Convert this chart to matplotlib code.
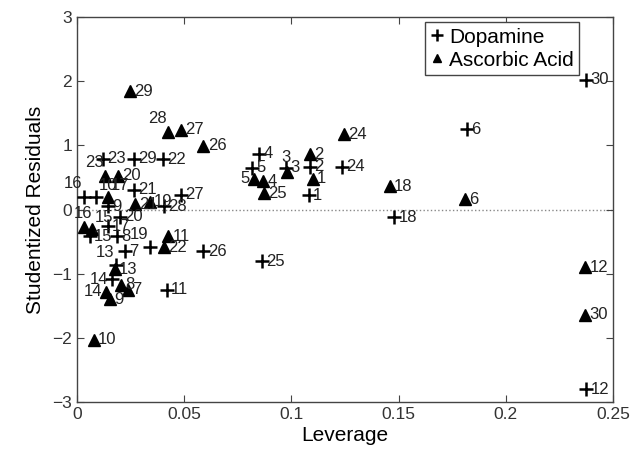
import matplotlib
matplotlib.use("Agg")
import matplotlib.pyplot as plt
from matplotlib import font_manager

# leverage / studentized residuals, sample ids 1..30
dop_id = list(range(1, 31))
dop_lev = [0.108, 0.1087, 0.0975, 0.085, 0.0816, 0.182, 0.0224, 0.0187, 0.0145, 0.0089,
           0.042, 0.2375, 0.018, 0.0163, 0.006, 0.0033, 0.0145, 0.148, 0.034, 0.020,
           0.0266, 0.040, 0.0121, 0.1236, 0.0863, 0.059, 0.0485, 0.0405, 0.0266, 0.2375]
dop_res = [0.22, 0.67, 0.65, 0.87, 0.65, 1.25, -0.65, -0.42, 0.05, 0.20,
           -1.25, -2.80, -0.87, -1.09, -0.42, 0.20, -0.26, -0.12, -0.59, -0.11,
           0.31, 0.78, 0.79, 0.67, -0.81, -0.65, 0.23, 0.05, 0.79, 2.02]

asc_id = list(range(1, 31))
asc_lev = [0.110, 0.1087, 0.098, 0.0868, 0.0826, 0.181, 0.024, 0.0205, 0.0154, 0.0079,
           0.0425, 0.237, 0.0177, 0.0135, 0.007, 0.0033, 0.0145, 0.146, 0.034, 0.019,
           0.027, 0.0405, 0.013, 0.1245, 0.087, 0.059, 0.0486, 0.0425, 0.0247, 0.237]
asc_res = [0.48, 0.86, 0.59, 0.44, 0.48, 0.16, -1.25, -1.17, -1.40, -2.03,
           -0.42, -0.90, -0.93, -1.28, -0.31, -0.28, 0.19, 0.36, 0.12, 0.53,
           0.08, -0.59, 0.53, 1.17, 0.25, 0.99, 1.24, 1.21, 1.84, -1.64]

# where a point's number sits when not to the right
dop_pos = {16: "ul", 10: "ur", 19: "ul", 13: "ul", 14: "l"}
asc_pos = {28: "ul", 23: "ul", 16: "u", 15: "ur", 14: "l", 5: "l", 3: "u", 17: "ur"}

offsets = {"r": ((3, 0), "left", "center"),
           "l": ((-3, 0), "right", "center"),
           "u": ((-1, 5), "center", "bottom"),
           "ul": ((-1, 4), "right", "bottom"),
           "ur": ((2, 3), "left", "bottom")}

names = {f.name for f in font_manager.fontManager.ttflist}
has_narrow = "Liberation Sans Narrow" in names
narrow = "Liberation Sans Narrow" if has_narrow else "Liberation Sans"
tick_size = 14 if has_narrow else 12.5
num_size = 13 if has_narrow else 12

plt.rcParams["font.family"] = ["Liberation Sans", "DejaVu Sans"]

fig = plt.figure(figsize=(6.3, 4.54), dpi=100)
ax = fig.add_axes([0.1222, 0.1145, 0.8508, 0.848])

ax.axhline(0, color="#888888", ls=":", lw=1, zorder=1)

ax.plot(dop_lev, dop_res, ls="none", marker="+", ms=10, mew=1.8, color="black",
        label="Dopamine", zorder=3)
ax.plot(asc_lev, asc_res, ls="none", marker="^", ms=8, color="black",
        label="Ascorbic Acid", zorder=3)

for ids, xs, ys, pos in [(dop_id, dop_lev, dop_res, dop_pos), (asc_id, asc_lev, asc_res, asc_pos)]:
    for i, x, y in zip(ids, xs, ys):
        (dx, dy), ha, va = offsets[pos.get(i, "r")]
        ax.annotate(str(i), (x, y), xytext=(dx, dy), textcoords="offset points",
                    ha=ha, va=va, fontsize=num_size, family=narrow, color="#222222",
                    zorder=4)

ax.set_xlim(0, 0.25)
ax.set_ylim(-3, 3)
ax.set_xticks([0, 0.05, 0.1, 0.15, 0.2, 0.25])
ax.set_xticklabels(["0", "0.05", "0.1", "0.15", "0.2", "0.25"])
ax.set_yticks([-3, -2, -1, 0, 1, 2, 3])
ax.tick_params(direction="in", length=5, width=0.8, top=True, right=True,
               labelsize=tick_size, labelcolor="#333333", color="#444444")
for lab in ax.get_xticklabels() + ax.get_yticklabels():
    lab.set_family(narrow)
for s in ax.spines.values():
    s.set_color("#444444")
    s.set_linewidth(1)

ax.set_xlabel("Leverage", fontsize=15, labelpad=3)
ax.set_ylabel("Studentized Residuals", fontsize=15, labelpad=5)

leg = ax.legend(loc="upper right", bbox_to_anchor=(0.937, 0.986), fontsize=15,
                handlelength=0.6, handletextpad=0.3, borderpad=0.25, labelspacing=0.2,
                markerscale=0.8, fancybox=False, framealpha=1, borderaxespad=0)
leg.get_frame().set_edgecolor("#444444")
leg.get_frame().set_linewidth(1)

fig.savefig("out.png", dpi=100)
